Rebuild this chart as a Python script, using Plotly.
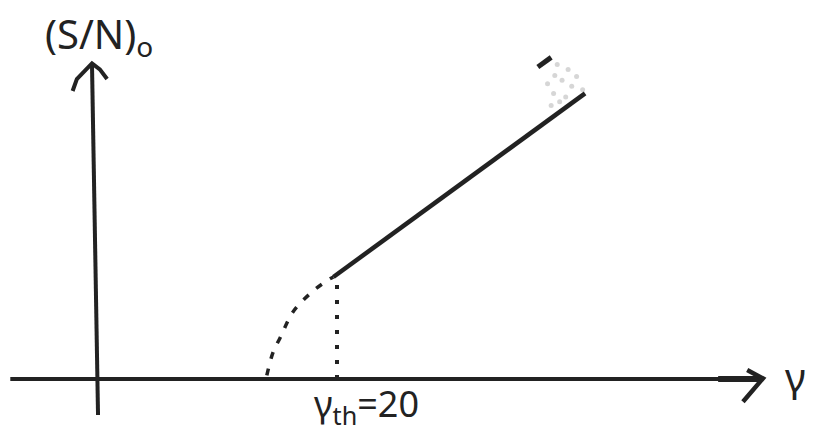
import plotly.graph_objects as go

# Threshold curve of output SNR (S/N)_o versus input SNR gamma
gamma_th = 20

# Linear region above threshold
above_gamma = [19.7, 40.5]
above_snr = [8.5, 23.8]

# Fall-off below threshold (sketched)
below_gamma = [14.2, 14.7, 15.37, 16.36, 17.93, 19.26, 19.7]
below_snr = [0.3, 2.17, 3.58, 5.58, 7.25, 8.25, 8.5]

# Vertical marker at the threshold
marker_gamma = [gamma_th, gamma_th]
marker_snr = [0, 8.0]

# Axis strokes with open arrowheads
h_axis_x = [-7.0, 55.2]
h_axis_y = [0, 0]
h_head_x = [53.9, 55.2, 53.55]
h_head_y = [0.75, 0.05, -1.9]
v_axis_x = [0.25, -0.25]
v_axis_y = [-3.0, 26.3]
v_head_x = [-1.85, -1.5, -0.25, 0.4, 1.0]
v_head_y = [24.0, 25.0, 26.3, 25.8, 25.0]

ink = "#222222"
fig = go.Figure()

fig.add_trace(go.Scatter(x=h_axis_x, y=h_axis_y, mode="lines",
                         line=dict(color=ink, width=4), hoverinfo="skip"))
fig.add_trace(go.Scatter(x=[51.5, 55.0], y=[0, 0], mode="lines",
                         line=dict(color=ink, width=6), hoverinfo="skip"))
fig.add_trace(go.Scatter(x=h_head_x, y=h_head_y, mode="lines",
                         line=dict(color=ink, width=4.5), hoverinfo="skip"))
fig.add_trace(go.Scatter(x=v_axis_x, y=v_axis_y, mode="lines",
                         line=dict(color=ink, width=4), hoverinfo="skip"))
fig.add_trace(go.Scatter(x=v_head_x, y=v_head_y, mode="lines",
                         line=dict(color=ink, width=4), hoverinfo="skip"))

fig.add_trace(go.Scatter(x=above_gamma, y=above_snr, mode="lines",
                         line=dict(color=ink, width=4.5), hoverinfo="skip"))
fig.add_trace(go.Scatter(x=below_gamma, y=below_snr, mode="lines",
                         line=dict(color=ink, width=3.5, shape="spline", dash="7px,10px"),
                         hoverinfo="skip"))
fig.add_trace(go.Scatter(x=marker_gamma, y=marker_snr, mode="lines",
                         line=dict(color=ink, width=4, dash="4px,11px"), hoverinfo="skip"))

# Erased pencil smudge near the top of the line
fig.add_trace(go.Scatter(x=[36.6, 37.7], y=[26.0, 26.8], mode="lines",
                         line=dict(color=ink, width=5), hoverinfo="skip"))
fig.add_trace(go.Scatter(x=[37.4, 38.0, 38.6, 39.1, 37.9, 38.4, 39.4, 38.9, 37.7, 39.8, 38.2, 40.3],
                         y=[24.6, 25.3, 24.9, 25.8, 23.8, 23.1, 24.4, 23.5, 22.8, 25.2, 26.2, 24.1],
                         mode="markers",
                         marker=dict(color="#777777", size=5, opacity=0.3),
                         hoverinfo="skip"))

hand = "Noto Sans"
fig.add_annotation(x=0.3, y=28.6, text="(S/N)<sub>o</sub>", showarrow=False,
                   font=dict(family=hand, size=40, color=ink))
fig.add_annotation(x=57.9, y=0.2, text="γ", showarrow=False,
                   font=dict(family=hand, size=40, color=ink))
fig.add_annotation(x=22.4, y=-2.2, text="γ<sub>th</sub>=20", showarrow=False,
                   font=dict(family=hand, size=36, color=ink))

fig.update_layout(
    width=814, height=434,
    margin=dict(l=0, r=0, t=0, b=0),
    paper_bgcolor="white", plot_bgcolor="white",
    showlegend=False,
    xaxis=dict(range=[-95 / 12.1, (814 - 95) / 12.1], visible=False, fixedrange=True),
    yaxis=dict(range=[-(434 - 379) / 12, 379 / 12], visible=False, fixedrange=True),
)

fig.write_html("out.html")
